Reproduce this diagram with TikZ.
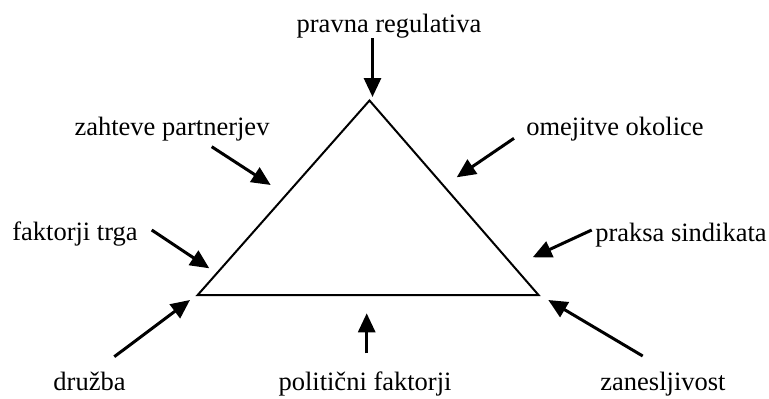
\documentclass[tikz,border=0pt]{standalone}
\usepackage{fontspec}
\setmainfont{Liberation Serif}
\usetikzlibrary{arrows.meta}
\begin{document}
\begin{tikzpicture}[x=1pt,y=-1pt,
  lbl/.style={font=\fontsize{26.5}{30}\selectfont, inner sep=0pt, anchor=base},
  edge/.style={line width=2pt, line join=miter},
  push/.style={line width=3pt, -{Triangle[length=19pt,width=17pt]}}]
\useasboundingbox (0,0) rectangle (769,399);
% triangle
\coordinate (A) at (369.5,100.5);
\coordinate (L) at (197.7,295);
\coordinate (R) at (538.5,295);
\draw[edge] (A) -- (L) -- (R) -- cycle;
% labels
\node[lbl] (pr) at (389,32) {pravna regulativa};
\node[lbl] (zp) at (172,135) {zahteve partnerjev};
\node[lbl] (ok) at (615,135) {omejitve okolice};
\node[lbl] (ft) at (75,240) {faktorji trga};
\node[lbl] (ps) at (681,241) {praksa sindikata};
\node[lbl] (dr) at (89.5,390) {družba};
\node[lbl] (pf) at (365,390) {politični faktorji};
\node[lbl] (za) at (663,390) {zanesljivost};
% arrow ends
\coordinate (s1) at (372.5,38); \coordinate (e1) at (372.5,97);
\coordinate (s2) at (211.7,146.7); \coordinate (e2) at (270.7,185);
\coordinate (s3) at (514,138.3); \coordinate (e3) at (456.7,177.3);
\coordinate (s4) at (151.7,230); \coordinate (e4) at (209.3,268.3);
\coordinate (s5) at (591.7,230); \coordinate (e5) at (532.7,257.3);
\coordinate (s6) at (114.3,356.7); \coordinate (e6) at (190,300);
\coordinate (s7) at (366.7,353.3); \coordinate (e7) at (366.7,313.3);
\coordinate (s8) at (642.7,356); \coordinate (e8) at (548.3,300);
\foreach \i in {1,...,8} {\draw[push] (s\i) -- (e\i);}
\end{tikzpicture}
\end{document}
